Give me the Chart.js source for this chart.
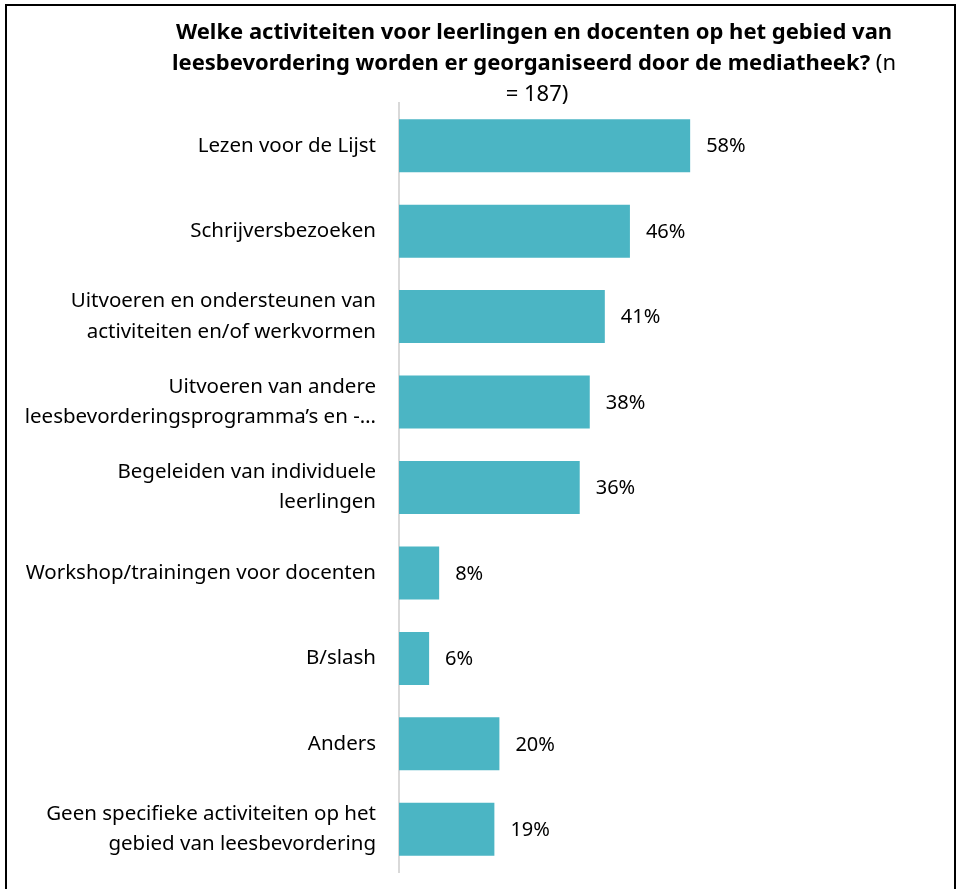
<!DOCTYPE html>
<html>
<head>
<meta charset="utf-8">
<script src="https://cdn.jsdelivr.net/npm/chart.js@4/dist/chart.umd.min.js"></script>
<style>
  html, body { margin: 0; padding: 0; background: #fff; }
  #wrap { position: relative; width: 959px; height: 889px; }
</style>
</head>
<body>
<div id="wrap"><canvas id="chart" width="959" height="889"></canvas></div>
<script>
const categories = [
  'Lezen voor de Lijst',
  'Schrijversbezoeken',
  ['Uitvoeren en ondersteunen van', 'activiteiten en/of werkvormen'],
  ['Uitvoeren van andere', 'leesbevorderingsprogramma’s en -…'],
  ['Begeleiden van individuele', 'leerlingen'],
  'Workshop/trainingen voor docenten',
  'B/slash',
  'Anders',
  ['Geen specifieke activiteiten op het', 'gebied van leesbevordering']
];
const percentages = [58, 46, 41, 38, 36, 8, 6, 20, 19];
const titleBold = ['Welke activiteiten voor leerlingen en docenten op het gebied van',
                   'leesbevordering worden er georganiseerd door de mediatheek?'];
const titleNormal = [' (n', '= 187)'];

const FONT = '"Noto Sans", sans-serif';

// title, frame and value labels
const extras = {
  id: 'extras',
  afterDraw(chart){
    const ctx = chart.ctx;
    ctx.save();
    // frame
    ctx.strokeStyle = '#000';
    ctx.lineWidth = 2;
    ctx.beginPath();
    ctx.moveTo(6, 889); ctx.lineTo(6, 5); ctx.lineTo(955, 5); ctx.lineTo(955, 889);
    ctx.stroke();

    // title
    const cx = 534;
    const bold = 'bold 22px ' + FONT, norm = '22px ' + FONT;
    ctx.fillStyle = '#000';
    ctx.textBaseline = 'middle';
    ctx.textAlign = 'left';
    ctx.font = bold;
    let w = ctx.measureText(titleBold[0]).width;
    ctx.fillText(titleBold[0], cx - w/2, 33);
    const w1 = ctx.measureText(titleBold[1]).width;
    ctx.font = norm;
    const w2 = ctx.measureText(titleNormal[0]).width;
    let x0 = cx - (w1 + w2)/2;
    ctx.font = bold; ctx.fillText(titleBold[1], x0, 64);
    ctx.font = norm; ctx.fillText(titleNormal[0], x0 + w1, 64);
    w = ctx.measureText(titleNormal[1]).width;
    ctx.fillText(titleNormal[1], cx + 3 - w/2, 95);

    // value labels
    ctx.font = '20px ' + FONT;
    const meta = chart.getDatasetMeta(0);
    meta.data.forEach((bar, i) => {
      ctx.fillText(percentages[i] + '%', bar.x + 16, bar.y + 1);
    });
    ctx.restore();
  }
};

new Chart(document.getElementById('chart').getContext('2d'), {
  type: 'bar',
  data: { labels: categories, datasets: [
    { data: percentages, backgroundColor: '#4BB5C4', borderWidth: 0,
      categoryPercentage: 0.62, barPercentage: 1 }
  ]},
  options: {
    indexAxis: 'y', responsive: false, animation: false,
    layout: { padding: { top: 103, bottom: 17, left: 0, right: 58 } },
    plugins: { legend: { display: false }, title: { display: false }, tooltip: { enabled: false } },
    scales: {
      x: { display: false, min: 0, max: 100 },
      y: {
        afterFit: s => { s.width = 399; s.paddingTop = 0; s.paddingBottom = 0; },
        grid: { display: false, drawTicks: false },
        border: { display: true, color: '#d9d9d9', width: 2 },
        ticks: { color: '#000', padding: 23, font: { family: FONT, size: 20.5, lineHeight: 1.47 } }
      }
    }
  },
  plugins: [extras]
});
</script>
</body>
</html>
